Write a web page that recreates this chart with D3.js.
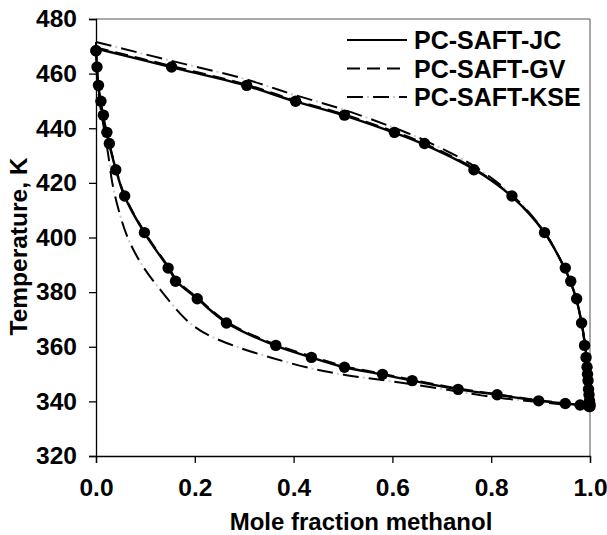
<!DOCTYPE html>
<html>
<head>
<meta charset="utf-8">
<script src="https://cdn.jsdelivr.net/npm/d3@7"></script>
<style>
  html, body { margin: 0; padding: 0; background: #fff; }
  svg text { font-family: "Liberation Sans", Arial, sans-serif; font-weight: bold; fill: #000; }
</style>
</head>
<body>
<svg id="chart" width="607" height="535"></svg>
<script>
// Isobaric T-x-y data: methanol mole fraction in liquid (x) and vapour (y)
const expT = [468.4, 462.4, 455.7, 449.9, 444.8, 438.5, 434.4, 424.8, 415.2, 401.8,
              388.8, 384.0, 377.6, 368.7, 360.5, 356.1, 352.5, 349.9, 347.6, 344.4,
              342.4, 340.2, 339.2, 338.7, 338.1];
const expX = [0.000, 0.002, 0.005, 0.010, 0.015, 0.022, 0.027, 0.040, 0.058, 0.098,
              0.146, 0.161, 0.205, 0.264, 0.364, 0.436, 0.503, 0.580, 0.640, 0.733,
              0.812, 0.896, 0.950, 0.980, 0.998];
const expY = [0.000, 0.153, 0.305, 0.404, 0.503, 0.604, 0.665, 0.765, 0.842, 0.908,
              0.950, 0.961, 0.973, 0.983, 0.989, 0.992, 0.994, 0.995, 0.996, 0.997,
              0.998, 0.999, 0.9995, 0.9998, 1.000];

// PC-SAFT-JC model
const jcBubT = [469.2, 462.0, 455.0, 449.0, 444.0, 438.0, 434.0, 425.0, 415.0, 402.0,
                389.0, 384.0, 377.6, 368.7, 360.5, 356.1, 352.5, 349.9, 347.6, 344.4,
                342.4, 340.2, 339.2, 338.6, 338.0];
const jcBubX = [0.000, 0.002, 0.005, 0.010, 0.015, 0.022, 0.027, 0.040, 0.058, 0.097,
                0.146, 0.163, 0.205, 0.265, 0.362, 0.436, 0.503, 0.578, 0.640, 0.733,
                0.812, 0.896, 0.950, 0.980, 1.000];
const jcDewT = [469.2, 462.5, 455.8, 450.0, 444.8, 438.6, 434.4, 425.0, 415.0, 402.0,
                389.0, 384.0, 377.6, 368.7, 360.5, 356.0, 352.0, 348.0, 344.0, 341.0, 338.0];
const jcDewY = [0.000, 0.150, 0.300, 0.400, 0.500, 0.600, 0.660, 0.765, 0.842, 0.907,
                0.948, 0.960, 0.972, 0.983, 0.990, 0.993, 0.995, 0.997, 0.998, 0.999, 1.000];

// PC-SAFT-GV model
const gvBubT = [469.6, 462.3, 455.4, 449.4, 444.4, 438.4, 434.4, 425.4, 415.4, 402.4,
                389.4, 384.4, 378.0, 369.1, 360.9, 356.5, 352.9, 350.2, 347.9, 344.7,
                342.6, 340.4, 339.3, 338.7, 338.0];
const gvBubX = [0.000, 0.002, 0.005, 0.010, 0.015, 0.022, 0.027, 0.040, 0.058, 0.097,
                0.146, 0.163, 0.205, 0.265, 0.362, 0.436, 0.503, 0.578, 0.640, 0.733,
                0.812, 0.896, 0.950, 0.980, 1.000];
const gvDewT = [469.6, 462.9, 456.2, 450.4, 445.2, 439.0, 434.8, 425.3, 415.2, 402.1,
                389.0, 384.0, 377.6, 368.7, 360.5, 356.0, 352.0, 348.0, 344.0, 341.0, 338.0];
const gvDewY = [0.000, 0.150, 0.300, 0.400, 0.500, 0.600, 0.660, 0.765, 0.842, 0.907,
                0.948, 0.960, 0.972, 0.983, 0.990, 0.993, 0.995, 0.997, 0.998, 0.999, 1.000];

// PC-SAFT-KSE model
const kseBubT = [471.6, 462.0, 450.0, 440.0, 430.0, 420.0, 410.0, 400.0, 390.0, 380.0,
                 370.0, 365.0, 360.0, 356.0, 352.3, 349.5, 347.3, 344.0, 342.2, 341.0,
                 339.7, 338.6, 338.0];
const kseBubX = [0.000, 0.001, 0.007, 0.016, 0.025, 0.033, 0.046, 0.064, 0.093, 0.134,
                 0.182, 0.220, 0.285, 0.355, 0.430, 0.510, 0.600, 0.720, 0.780, 0.830,
                 0.900, 0.960, 1.000];
const kseDewT = [471.6, 464.8, 458.1, 452.3, 446.9, 440.4, 436.0, 426.2, 415.6, 402.3,
                 389.0, 384.0, 377.6, 368.7, 360.5, 356.0, 352.0, 348.0, 344.0, 341.0, 338.0];
const kseDewY = [0.000, 0.150, 0.300, 0.400, 0.500, 0.600, 0.660, 0.765, 0.842, 0.907,
                 0.948, 0.960, 0.972, 0.983, 0.990, 0.993, 0.995, 0.997, 0.998, 0.999, 1.000];

const xTicks = [0, 0.2, 0.4, 0.6, 0.8, 1.0];
const yTicks = [320, 340, 360, 380, 400, 420, 440, 460, 480];
const legendLabels = ["PC-SAFT-JC", "PC-SAFT-GV", "PC-SAFT-KSE"];

const svg = d3.select("#chart");
const mL = 96, mR = 590, mT = 19, mB = 456;

const x = d3.scaleLinear().domain([0, 1]).range([mL, mR]);
const y = d3.scaleLinear().domain([320, 480]).range([mB, mT]);

// frame
svg.append("line").attr("x1", mL).attr("x2", mR).attr("y1", mT).attr("y2", mT)
  .attr("stroke", "#555").attr("stroke-width", 1);
svg.append("line").attr("x1", mR).attr("x2", mR).attr("y1", mT).attr("y2", mB)
  .attr("stroke", "#777").attr("stroke-width", 1.3);

// axes
const xAxis = svg.append("g").attr("transform", `translate(0,${mB})`)
  .call(d3.axisBottom(x).tickValues(xTicks).tickFormat(d3.format(".1f")).tickSizeOuter(0).tickSize(7).tickPadding(16));
const yAxis = svg.append("g").attr("transform", `translate(${mL},0)`)
  .call(d3.axisLeft(y).tickValues(yTicks).tickFormat(d3.format("d")).tickSizeOuter(0).tickSize(7).tickPadding(12));
[xAxis, yAxis].forEach(g => {
  g.select(".domain").attr("stroke", "#000").attr("stroke-width", 1.3);
  g.selectAll(".tick line").attr("stroke", "#000").attr("stroke-width", 1.3);
  g.selectAll(".tick text").attr("font-size", 24.5).attr("font-weight", "bold")
    .attr("font-family", "Liberation Sans, Arial, sans-serif").attr("fill", "#000");
});

svg.append("text").attr("x", (mL + mR) / 2 + 18).attr("y", 530)
  .attr("text-anchor", "middle").attr("font-size", 24).text("Mole fraction methanol");
svg.append("text").attr("transform", `translate(27,${(mT + mB) / 2 + 9}) rotate(-90)`)
  .attr("text-anchor", "middle").attr("font-size", 24.5).text("Temperature, K");

// model curves
const pathOf = (xs, ts) => d3.line().curve(d3.curveCatmullRom.alpha(0.5))
  .x(d => x(d[0])).y(d => y(d[1]))(xs.map((v, i) => [v, ts[i]]));

const plot = svg.append("g");
function drawModel(xs, ts, style) {
  if (style === "kse") {
    plot.append("path").attr("d", pathOf(xs, ts)).attr("fill", "none")
      .attr("stroke", "#000").attr("stroke-width", 2).attr("stroke-dasharray", "16,10");
    plot.append("path").attr("d", pathOf(xs, ts)).attr("fill", "none")
      .attr("stroke", "#c8c8c8").attr("stroke-width", 2).attr("stroke-dasharray", "2,24")
      .attr("stroke-dashoffset", 6);
  } else {
    plot.append("path").attr("d", pathOf(xs, ts)).attr("fill", "none")
      .attr("stroke", "#000").attr("stroke-width", style === "jc" ? 2.4 : 2)
      .attr("stroke-dasharray", style === "gv" ? "13,7" : null);
  }
}
drawModel(kseBubX, kseBubT, "kse");
drawModel(kseDewY, kseDewT, "kse");
drawModel(gvBubX, gvBubT, "gv");
drawModel(gvDewY, gvDewT, "gv");
drawModel(jcBubX, jcBubT, "jc");
drawModel(jcDewY, jcDewT, "jc");

// experimental points
const pts = expT.map((t, i) => [expX[i], t]).concat(expT.map((t, i) => [expY[i], t]));
plot.selectAll("circle.exp").data(pts).enter().append("circle")
  .attr("class", "exp").attr("cx", d => x(d[0])).attr("cy", d => y(d[1]))
  .attr("r", 5.7).attr("fill", "#000");

// legend
const lg = svg.append("g");
legendLabels.forEach((lab, i) => {
  const ly = 40 + i * 28.5;
  const ln = d3.line()([[347, ly], [407, ly]]);
  if (i === 2) {
    lg.append("path").attr("d", ln).attr("stroke", "#000").attr("stroke-width", 2)
      .attr("stroke-dasharray", "16,10");
    lg.append("path").attr("d", ln).attr("stroke", "#c8c8c8").attr("stroke-width", 2)
      .attr("stroke-dasharray", "2,24").attr("stroke-dashoffset", 6);
  } else {
    lg.append("path").attr("d", ln).attr("stroke", "#000").attr("stroke-width", 2)
      .attr("stroke-dasharray", i === 1 ? "13,7" : null);
  }
  lg.append("text").attr("x", 414).attr("y", ly + 9).attr("font-size", 25).text(lab);
});
</script>
</body>
</html>
